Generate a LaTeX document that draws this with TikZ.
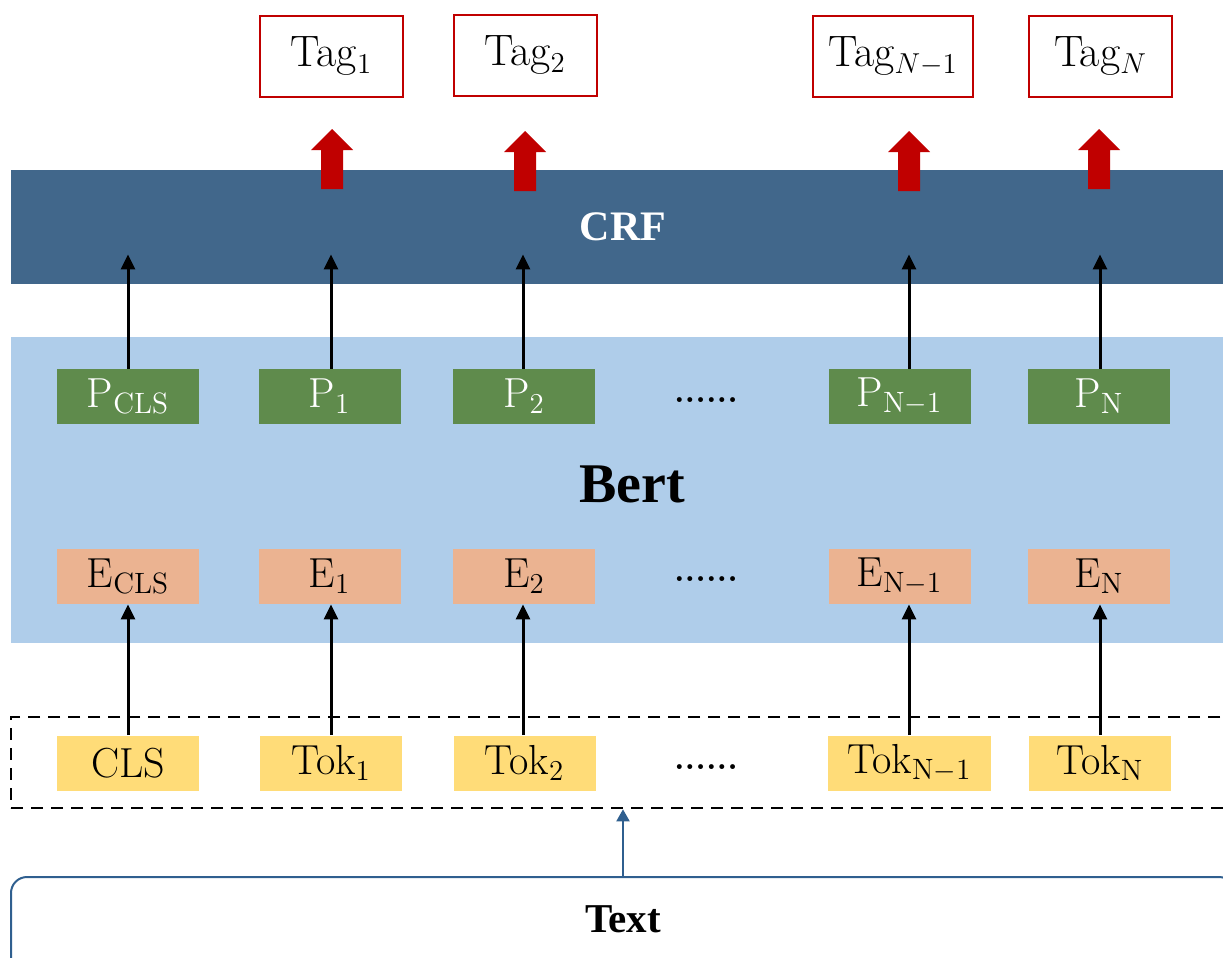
\documentclass[tikz,border=0pt]{standalone}
\usepackage{fontspec}
\newfontfamily\tnr{Liberation Serif}
\usetikzlibrary{arrows.meta,calc}

\definecolor{crfblue}{HTML}{41678B}
\definecolor{bertblue}{HTML}{AFCDEA}
\definecolor{pgreen}{HTML}{5F8B4C}
\definecolor{esalmon}{HTML}{EBB391}
\definecolor{tokyellow}{HTML}{FFDC78}
\definecolor{tagred}{HTML}{C00000}
\definecolor{textblue}{HTML}{2F5F8F}

\begin{document}
\begin{tikzpicture}[x=0.5pt,y=-0.5pt,
  band/.style={draw=none, inner sep=0pt, minimum width=612pt},
  cell/.style={inner sep=0pt, minimum width=71pt, minimum height=27.5pt,
    font=\fontsize{21}{24}\selectfont},
  pcell/.style={cell, fill=pgreen, text=white},
  ecell/.style={cell, fill=esalmon},
  tcell/.style={cell, fill=tokyellow},
  tagbox/.style={draw=tagred, line width=1pt, fill=white, inner sep=0pt,
    minimum width=71.5pt, minimum height=40.5pt, font=\fontsize{22}{25}\selectfont},
  flow/.style={line width=1.5pt, -{Triangle[length=7.5pt,width=7pt]}},
  ellip/.style={anchor=base, inner sep=0pt, font=\bfseries\fontsize{17}{20}\selectfont},
  boldlbl/.style={font=\tnr\bfseries\fontsize{#1}{#1}\selectfont},
  redup/.pic={\fill[tagred] (-5.5pt,0pt) -- (-5.5pt,19.5pt) -- (-10.5pt,19.5pt)
    -- (0pt,30pt) -- (10.5pt,19.5pt) -- (5.5pt,19.5pt) -- (5.5pt,0pt) -- cycle;},
]
\useasboundingbox (0,0) rectangle (1223,958);
\clip (0,0) rectangle (1223,958);

% layers
\node[band, fill=crfblue, minimum height=57pt, text=white, boldlbl=21] (crf) at (623,227) {CRF};
\node[band, fill=bertblue, minimum height=153pt] (bert) at (623,490) {};
\node[boldlbl=28] (bertlbl) at (632,484) {Bert};

% token frame and input text
\node[draw, line width=1.3pt, dash pattern=on 6pt off 4pt, inner sep=0pt,
  minimum width=614.5pt, minimum height=45.5pt] (toks) at (625.5,762.5) {};
\node[draw=textblue, line width=1pt, rounded corners=8pt, inner sep=0pt,
  minimum width=612pt, minimum height=50pt] (txtbox) at (623,927) {};
\node[boldlbl=20.5] (txtlbl) at (623,919) {Text};

% column positions of the arrows
\coordinate (k0) at (128,0);
\coordinate (k1) at (331,0);
\coordinate (k2) at (523,0);
\coordinate (k3) at (909,0);
\coordinate (k4) at (1100,0);
\coordinate (kt) at (623,0);

% output vectors
\node[pcell] (p0) at (128,396.5) {P$_{\mathrm{CLS}}$};
\node[pcell] (p1) at (329.5,396.5) {P$_1$};
\node[pcell] (p2) at (524,396.5) {P$_2$};
\node[pcell] (p3) at (899.5,396.5) {P$_{\mathrm{N-1}}$};
\node[pcell] (p4) at (1099,396.5) {P$_{\mathrm{N}}$};
\node[ellip] (pd) at (706,402) {......};

% embeddings
\node[ecell] (e0) at (128,576.5) {E$_{\mathrm{CLS}}$};
\node[ecell] (e1) at (329.5,576.5) {E$_1$};
\node[ecell] (e2) at (524,576.5) {E$_2$};
\node[ecell] (e3) at (899.5,576.5) {E$_{\mathrm{N-1}}$};
\node[ecell] (e4) at (1099,576.5) {E$_{\mathrm{N}}$};
\node[ellip] (ed) at (706,581) {......};

% tokens
\node[tcell] (t0) at (128,763) {CLS};
\node[tcell] (t1) at (331,763) {Tok$_1$};
\node[tcell] (t2) at (524.5,763) {Tok$_2$};
\node[tcell, minimum width=81.5pt] (t3) at (909.5,763) {Tok$_{\mathrm{N-1}}$};
\node[tcell] (t4) at (1100,763) {Tok$_{\mathrm{N}}$};
\node[ellip] (td) at (706,769) {......};

% tags
\node[tagbox] (tag1) at (331.5,56.5) {Tag$_1$};
\node[tagbox] (tag2) at (525,55.5) {Tag$_2$};
\node[tagbox, minimum width=80pt] (tag3) at (893,56.5) {Tag$_{N-1}$};
\node[tagbox] (tag4) at (1100.5,56.5) {Tag$_N$};

% CRF outputs
\pic at (332,189) {redup};
\pic at (525,191) {redup};
\pic at (909,191) {redup};
\pic at (1099,189) {redup};

% P -> CRF
\foreach \i in {0,...,4} {
  \draw[flow] (p\i.north -| k\i) -- ($(crf.south -| k\i)+(0,-30)$);
}
% Tok -> E
\foreach \i in {0,...,4} {
  \draw[flow] (t\i.north -| k\i) -- (e\i.south -| k\i);
}
% text -> tokens
\draw[textblue, line width=1pt, -{Triangle[length=6pt,width=6.5pt]}]
  (txtbox.north -| kt) -- (toks.south -| kt);
\end{tikzpicture}
\end{document}
